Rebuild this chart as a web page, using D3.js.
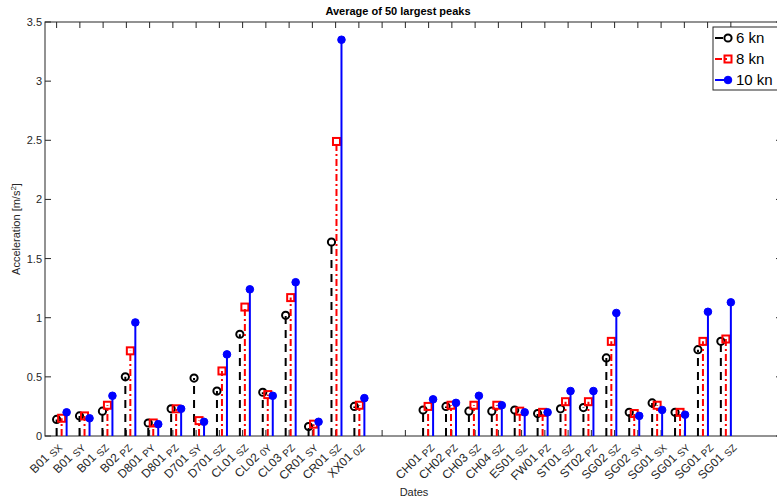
<!DOCTYPE html>
<html>
<head>
<meta charset="utf-8">
<script src="https://cdn.jsdelivr.net/npm/d3@7"></script>
<style>
  html, body { margin: 0; padding: 0; background: #fff; overflow: hidden; }
  svg { display: block; font-family: "Liberation Sans", Arial, sans-serif; }
</style>
</head>
<body>
<svg id="chart" width="777" height="502"></svg>
<script>
/* Average of 50 largest peaks — stem chart, three speeds */

// tick labels: [main, subscript]; blank slots separate the two groups
const siteNames = ["B01","B01","B01","B02","D801","D801","D701","D701","CL01","CL02","CL03","CR01","CR01","XX01","","",
    "CH01","CH02","CH03","CH04","ES01","FW01","ST01","ST02","SG02","SG02","SG01","SG01","SG01","SG01"];
const sensorNames = ["SX","SY","SZ","PZ","PY","PZ","SY","SZ","SZ","0Y","PZ","SY","SZ","0Z","","",
    "PZ","PZ","SZ","SZ","SZ","PZ","SZ","PZ","SZ","SY","SX","SY","PZ","SZ"];

const kn6  = [0.14,0.17,0.21,0.50,0.11,0.23,0.49,0.38,0.86,0.37,1.02,0.08,1.64,0.25,null,null,
    0.22,0.25,0.21,0.21,0.22,0.19,0.23,0.24,0.66,0.20,0.28,0.20,0.73,0.80];
const kn8  = [0.15,0.17,0.26,0.72,0.11,0.23,0.13,0.55,1.09,0.35,1.17,0.10,2.49,0.26,null,null,
    0.25,0.26,0.26,0.26,0.21,0.20,0.29,0.29,0.80,0.19,0.26,0.20,0.80,0.82];
const kn10 = [0.20,0.15,0.34,0.96,0.10,0.23,0.12,0.69,1.24,0.34,1.30,0.12,3.35,0.32,null,null,
    0.31,0.28,0.34,0.26,0.20,0.20,0.38,0.38,1.04,0.17,0.22,0.18,1.05,1.13];

const yTicks = [0, 0.5, 1, 1.5, 2, 2.5, 3, 3.5];

const AXIS_COLOR = '#262626';
const LEFT = 45, RIGHT = 782, TOP = 22, BOTTOM = 436;
const TICK_LEN = 6;
const STEP = 0.215;   // offset between the three stems of a group

const series = [
    { name: '6 kn',  values: kn6,  color: '#000000', dash: '8,6',     marker: 'circle' },
    { name: '8 kn',  values: kn8,  color: '#ff0000', dash: '7,3,2,3', marker: 'square' },
    { name: '10 kn', values: kn10, color: '#0000ff', dash: null,      marker: 'dot' },
];

const svg = d3.select('#chart');
const n = siteNames.length;

const x = d3.scaleLinear().domain([0.5, 32.2]).range([LEFT, RIGHT]);
const y = d3.scaleLinear().domain([0, 3.5]).range([BOTTOM, TOP]);

// stems are spread so the first black one sits on tick 1 and the last blue on tick n
function stemX(i, k) {
    return x(1 + i * (n - 1 - 2 * STEP) / (n - 1) + k * STEP);
}

/* Axes box */
const g = svg.append('g');
g.append('rect')
    .attr('x', LEFT).attr('y', TOP)
    .attr('width', RIGHT - LEFT).attr('height', BOTTOM - TOP)
    .attr('fill', 'none').attr('stroke', AXIS_COLOR).attr('stroke-width', 1);

// x ticks (bottom and top, pointing inward)
d3.range(1, n + 1).forEach(t => {
    const px = x(t);
    g.append('line').attr('x1', px).attr('x2', px).attr('y1', BOTTOM).attr('y2', BOTTOM - TICK_LEN)
        .attr('stroke', AXIS_COLOR);
    g.append('line').attr('x1', px).attr('x2', px).attr('y1', TOP).attr('y2', TOP + TICK_LEN)
        .attr('stroke', AXIS_COLOR);
});

// y ticks (left and right) + labels
yTicks.forEach(v => {
    const py = y(v);
    g.append('line').attr('x1', LEFT).attr('x2', LEFT + TICK_LEN).attr('y1', py).attr('y2', py)
        .attr('stroke', AXIS_COLOR);
    g.append('line').attr('x1', RIGHT).attr('x2', RIGHT - TICK_LEN).attr('y1', py).attr('y2', py)
        .attr('stroke', AXIS_COLOR);
    g.append('text')
        .attr('x', LEFT - 3).attr('y', py + 4)
        .attr('text-anchor', 'end')
        .attr('font-size', '11px')
        .attr('fill', AXIS_COLOR)
        .text(d3.format('~g')(v));
});

// rotated x tick labels with subscripted sensor name
siteNames.forEach((name, i) => {
    if (!name) return;
    const px = x(i + 1);
    const t = g.append('text')
        .attr('transform', `translate(${px + 5},${BOTTOM + 11}) rotate(-45)`)
        .attr('text-anchor', 'end')
        .attr('font-size', '12px')
        .attr('fill', AXIS_COLOR);
    t.append('tspan').text(name + ' ');
    t.append('tspan').attr('font-size', '10px').attr('dy', 2).text(sensorNames[i]);
});

/* Stems */
series.forEach((s, k) => {
    const pts = s.values
        .map((v, i) => ({ v, i }))
        .filter(d => d.v !== null);

    g.selectAll(null)
        .data(pts)
        .enter()
        .append('line')
        .attr('x1', d => stemX(d.i, k)).attr('x2', d => stemX(d.i, k))
        .attr('y1', y(0)).attr('y2', d => y(d.v))
        .attr('stroke', s.color)
        .attr('stroke-width', 2)
        .attr('stroke-dasharray', s.dash);

    drawMarkers(g, pts.map(d => ({ cx: stemX(d.i, k), cy: y(d.v) })), s);
});

function drawMarkers(parent, pts, s) {
    if (s.marker === 'circle') {
        parent.selectAll(null).data(pts).enter().append('circle')
            .attr('cx', d => d.cx).attr('cy', d => d.cy).attr('r', 3.6)
            .attr('fill', 'none').attr('stroke', s.color).attr('stroke-width', 2);
    } else if (s.marker === 'square') {
        parent.selectAll(null).data(pts).enter().append('rect')
            .attr('x', d => d.cx - 3.5).attr('y', d => d.cy - 3.5)
            .attr('width', 7).attr('height', 7)
            .attr('fill', 'none').attr('stroke', s.color).attr('stroke-width', 2);
    } else {
        parent.selectAll(null).data(pts).enter().append('circle')
            .attr('cx', d => d.cx).attr('cy', d => d.cy).attr('r', 3.8)
            .attr('fill', s.color).attr('stroke', s.color);
    }
}

/* Legend */
const legend = svg.append('g');
legend.append('rect')
    .attr('x', 713).attr('y', 27).attr('width', 70).attr('height', 63)
    .attr('fill', '#fff').attr('stroke', AXIS_COLOR).attr('stroke-width', 1);
series.forEach((s, k) => {
    const ly = 38 + k * 21;
    legend.append('line')
        .attr('x1', 715).attr('x2', 728).attr('y1', ly).attr('y2', ly)
        .attr('stroke', s.color).attr('stroke-width', 2)
        .attr('stroke-dasharray', s.dash);
    drawMarkers(legend, [{ cx: 728, cy: ly }], s);
    legend.append('text')
        .attr('x', 736).attr('y', ly + 5)
        .attr('font-size', '15px')
        .attr('fill', '#000')
        .text(s.name);
});

/* Titles */
svg.append('text')
    .attr('x', 398).attr('y', 15)
    .attr('text-anchor', 'middle')
    .attr('font-size', '11px').attr('font-weight', 'bold')
    .attr('fill', '#000')
    .text('Average of 50 largest peaks');

svg.append('text')
    .attr('x', 414).attr('y', 496)
    .attr('text-anchor', 'middle')
    .attr('font-size', '11px')
    .attr('fill', AXIS_COLOR)
    .text('Dates');

const yl = svg.append('text')
    .attr('transform', `translate(20,${(TOP + BOTTOM) / 2}) rotate(-90)`)
    .attr('text-anchor', 'middle')
    .attr('font-size', '11px')
    .attr('fill', AXIS_COLOR);
yl.append('tspan').text('Acceleration [m/s');
yl.append('tspan').attr('font-size', '8px').attr('dy', -4).text('2');
yl.append('tspan').attr('dy', 4).text(']');
</script>
</body>
</html>
